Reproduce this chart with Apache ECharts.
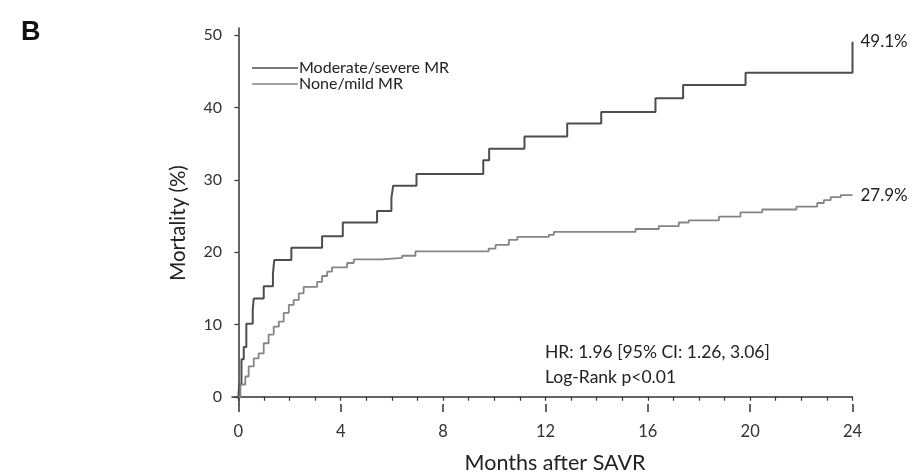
<!DOCTYPE html>
<html>
<head>
<meta charset="utf-8">
<script src="https://cdn.jsdelivr.net/npm/echarts@6/dist/echarts.min.js"></script>
<style>
html,body{margin:0;padding:0;background:#fff;}
#chart{width:918px;height:474px;}
</style>
</head>
<body>
<div id="chart"></div>
<script>
// ---- Data ----
const seriesNames = ['Moderate/severe MR', 'None/mild MR'];
const monthsModerate = [0, 0.03, 0.12, 0.21, 0.31, 0.56, 0.6, 0.99, 1.35, 1.4, 2.07, 3.27, 4.08, 5.42, 5.98, 6.05, 6.96, 9.57, 9.8, 11.18, 12.85, 14.18, 16.30, 17.38, 19.82, 24];
const mortalityModerate = [0, 1.7, 5.2, 6.9, 10.1, 12.0, 13.6, 15.3, 17.0, 18.9, 20.6, 22.2, 24.1, 25.7, 27.5, 29.2, 30.8, 32.7, 34.3, 36.0, 37.8, 39.4, 41.3, 43.1, 44.8, 49.1];
const monthsNone = [0, 0.08, 0.27, 0.40, 0.60, 0.79, 0.99, 1.18, 1.38, 1.58, 1.77, 1.97, 2.16, 2.36, 2.55, 3.08, 3.27, 3.47, 3.66, 4.25, 4.51, 5.62, 6.40, 6.92, 9.78, 10.05, 10.57, 10.90, 12.13, 12.33, 15.52, 16.43, 17.21, 17.60, 18.78, 19.62, 20.47, 21.81, 22.62, 22.88, 23.15, 23.54, 24];
const mortalityNone = [0, 1.7, 2.8, 4.2, 5.3, 6.0, 7.4, 8.6, 9.7, 10.4, 11.6, 12.7, 13.4, 14.3, 15.2, 15.9, 16.7, 17.3, 17.9, 18.5, 19.0, 19.2, 19.5, 20.1, 20.5, 21.0, 21.7, 22.1, 22.4, 22.8, 23.2, 23.6, 24.1, 24.4, 24.9, 25.5, 25.9, 26.3, 26.8, 27.2, 27.6, 27.9, 27.9];
const xTickLabels = [0, 4, 8, 12, 16, 20, 24];
const xMinorTicks = [0,1,2,3,4,5,6,7,8,9,10,11,12,13,14,15,16,17,18,19,20,21,22,23,24];
const yTickLabels = [0, 10, 20, 30, 40, 50];
const statsText = ['HR: 1.96 [95% CI: 1.26, 3.06]', 'Log-Rank p<0.01'];
const panelLabel = 'B';
const xTitle = 'Months after SAVR';
const yTitle = 'Mortality (%)';

const zip = (xs, ys) => xs.map((x, i) => [x, ys[i]]);
const FONT = 'Lato, "Open Sans", sans-serif';

const chart = echarts.init(document.getElementById('chart'), null, {renderer: 'canvas'});
const axisColor = '#333';

chart.setOption({
  animation: false,
  backgroundColor: '#fff',
  grid: {left: 232, right: 65.5, top: 28, bottom: 70, containLabel: false},
  title: {
    text: panelLabel, left: 16, top: 14,
    textStyle: {fontFamily: '"Liberation Sans", Arial, sans-serif', fontWeight: 'bold', fontSize: 27, color: '#111'}
  },
  legend: {
    orient: 'vertical', left: 247, top: 55, itemWidth: 46, itemHeight: 1.5, itemGap: 0,
    icon: 'rect',
    data: seriesNames,
    textStyle: {fontFamily: FONT, fontSize: 16, color: '#222', padding: [0,0,0,-4], lineHeight: 16}
  },
  xAxis: [{
    type: 'value', min: -0.25, max: 24,
    axisLine: {show: true, lineStyle: {color: axisColor, width: 1.5}},
    axisTick: {show: true, customValues: xMinorTicks, length: 4, inside: false, lineStyle: {color: axisColor, width: 1.2}},
    axisLabel: {show: true, customValues: xTickLabels, margin: 19, fontFamily: FONT, fontSize: 16.5, color: '#333'},
    splitLine: {show: false}
  }, {
    type: 'value', min: -0.25, max: 24, position: 'bottom',
    axisLine: {show: false},
    axisTick: {show: true, customValues: xTickLabels, length: 8, lineStyle: {color: axisColor, width: 1.5}},
    axisLabel: {show: false},
    splitLine: {show: false}
  }],
  yAxis: {
    type: 'value', min: -1, max: 51,
    axisLine: {show: true, lineStyle: {color: axisColor, width: 1.5}},
    axisTick: {show: true, customValues: yTickLabels, length: 4, lineStyle: {color: axisColor, width: 1.2}},
    axisLabel: {show: true, customValues: yTickLabels, margin: 10, fontFamily: FONT, fontSize: 16, color: '#333'},
    splitLine: {show: false}
  },
  graphic: [
    {type: 'text', x: 178, y: 223, rotation: Math.PI / 2,
     style: {text: yTitle, align: 'center', verticalAlign: 'middle', fontFamily: FONT, fontSize: 20.5, fill: '#222'}},
    {type: 'text', x: 555, y: 463,
     style: {text: xTitle, align: 'center', verticalAlign: 'middle', fontFamily: FONT, fontSize: 21.5, fill: '#222'}},
    {type: 'text', x: 545, y: 352,
     style: {text: statsText[0], align: 'left', verticalAlign: 'middle', fontFamily: FONT, fontSize: 17.5, fill: '#222'}},
    {type: 'text', x: 545, y: 377,
     style: {text: statsText[1], align: 'left', verticalAlign: 'middle', fontFamily: FONT, fontSize: 17.5, fill: '#222'}}
  ],
  series: [{
    name: seriesNames[0], type: 'line', step: 'end', symbol: 'none', showSymbol: false,
    data: zip(monthsModerate, mortalityModerate),
    lineStyle: {color: '#4d4d4d', width: 2},
    itemStyle: {color: '#4d4d4d'},
    endLabel: {show: true, distance: 8, formatter: p => p.value[1].toFixed(1) + '%', fontFamily: FONT, fontSize: 17, color: '#222'}
  }, {
    name: seriesNames[1], type: 'line', step: 'end', symbol: 'none', showSymbol: false,
    data: zip(monthsNone, mortalityNone),
    lineStyle: {color: '#858585', width: 1.8},
    itemStyle: {color: '#858585'},
    endLabel: {show: true, distance: 8, formatter: p => p.value[1].toFixed(1) + '%', fontFamily: FONT, fontSize: 17, color: '#222'}
  }]
});
</script>
</body>
</html>
